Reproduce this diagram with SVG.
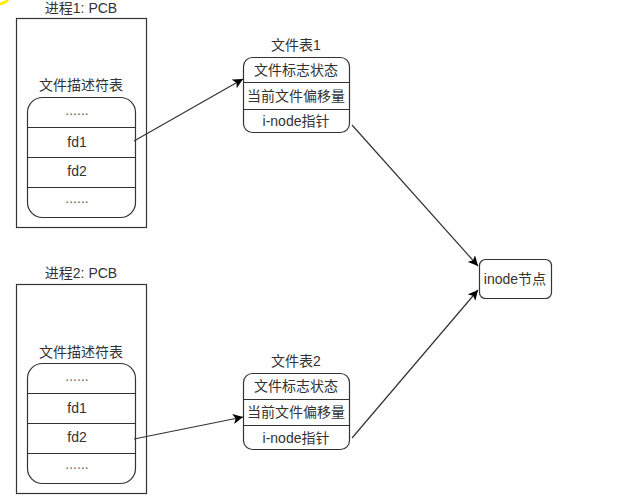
<svg xmlns="http://www.w3.org/2000/svg" width="627" height="496" viewBox="0 0 627 496">
<style>
text{font-family:"Liberation Sans","Noto Sans CJK SC",sans-serif;font-size:14px;fill:#333;text-anchor:middle;dominant-baseline:central}
.box{fill:#fff;stroke:#333;stroke-width:1.2}
.ln{stroke:#333;stroke-width:1.2;fill:none}
.dots{fill:#666}
</style>
<defs>
<marker id="ah" viewBox="0 0 10 10" refX="10" refY="5" markerWidth="10" markerHeight="10" markerUnits="userSpaceOnUse" orient="auto">
<path d="M0,0 L10,5 L0,10 L2.5,5 Z" fill="#000"/>
</marker>
</defs>
<rect width="627" height="496" fill="#fff"/>
<path d="M0,4 Q5,3 8,0" stroke="#ffee00" stroke-width="3" fill="none"/>
<g id="pcb1">
<text x="81" y="8">进程1: PCB</text>
<rect class="box" x="16.5" y="18.5" width="130" height="209"/>
<text x="81" y="85">文件描述符表</text>
<rect class="box" x="27.5" y="97.5" width="108" height="120" rx="15" ry="15"/>
<line class="ln" x1="27.5" y1="127.5" x2="135.5" y2="127.5"/>
<line class="ln" x1="27.5" y1="157.5" x2="135.5" y2="157.5"/>
<line class="ln" x1="27.5" y1="187.5" x2="135.5" y2="187.5"/>
<text class="dots" x="77" y="110">......</text>
<text x="77" y="142">fd1</text>
<text x="77" y="171">fd2</text>
<text class="dots" x="77" y="198">......</text>
</g>
<g id="pcb2">
<text x="81" y="273">进程2: PCB</text>
<rect class="box" x="16.5" y="284.5" width="130" height="209"/>
<text x="81" y="352">文件描述符表</text>
<rect class="box" x="27.5" y="363.5" width="108" height="120" rx="15" ry="15"/>
<line class="ln" x1="27.5" y1="393.5" x2="135.5" y2="393.5"/>
<line class="ln" x1="27.5" y1="423.5" x2="135.5" y2="423.5"/>
<line class="ln" x1="27.5" y1="453.5" x2="135.5" y2="453.5"/>
<text class="dots" x="77" y="376">......</text>
<text x="77" y="408">fd1</text>
<text x="77" y="437">fd2</text>
<text class="dots" x="77" y="464">......</text>
</g>
<g id="filetable1">
<text x="296" y="45">文件表1</text>
<rect class="box" x="243.5" y="57.5" width="106" height="75" rx="9" ry="9"/>
<line class="ln" x1="243.5" y1="82.5" x2="349.5" y2="82.5"/>
<line class="ln" x1="243.5" y1="109.5" x2="349.5" y2="109.5"/>
<text x="296" y="70">文件标志状态</text>
<text x="296" y="96">当前文件偏移量</text>
<text x="296" y="121">i-node指针</text>
</g>
<g id="filetable2">
<text x="296" y="361">文件表2</text>
<rect class="box" x="243.5" y="373.5" width="106" height="76" rx="9" ry="9"/>
<line class="ln" x1="243.5" y1="399.5" x2="349.5" y2="399.5"/>
<line class="ln" x1="243.5" y1="425.5" x2="349.5" y2="425.5"/>
<text x="296" y="386">文件标志状态</text>
<text x="296" y="412">当前文件偏移量</text>
<text x="296" y="438">i-node指针</text>
</g>
<g id="inode">
<rect class="box" x="479.5" y="259.5" width="72" height="39" rx="6" ry="6"/>
<text x="515" y="279">inode节点</text>
</g>
<g id="connectors">
<line class="ln" x1="134" y1="141" x2="243" y2="79" marker-end="url(#ah)"/>
<line class="ln" x1="134" y1="439" x2="243" y2="417" marker-end="url(#ah)"/>
<line class="ln" x1="352" y1="125" x2="478" y2="266" marker-end="url(#ah)"/>
<line class="ln" x1="352" y1="438" x2="478" y2="290" marker-end="url(#ah)"/>
</g>
</svg>
